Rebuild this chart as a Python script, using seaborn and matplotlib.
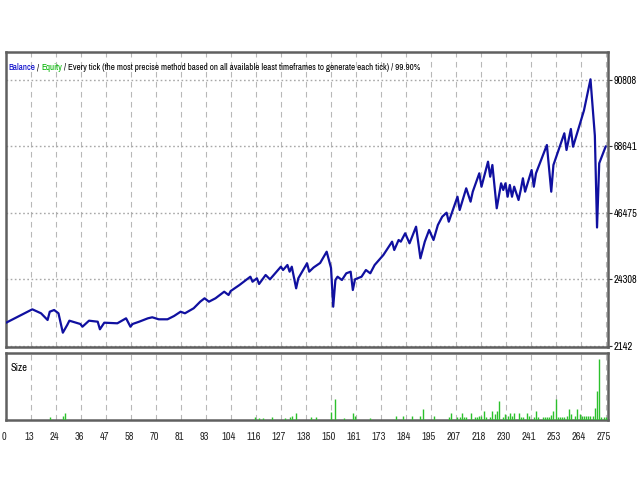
import numpy as np
import pandas as pd
import matplotlib
matplotlib.use("Agg")
import matplotlib.pyplot as plt
import matplotlib.transforms as mtransforms
from matplotlib import font_manager as fm
import seaborn as sns

# ---------------- data ----------------
trade = [0, 12, 16, 19, 20, 22, 24, 26, 28, 29, 34, 35, 38, 42, 43, 45, 51, 55, 57, 58,
         61, 65, 67, 70, 74, 77, 80, 82, 86, 89, 91, 93, 96, 98, 100, 102, 103, 107, 112, 113,
         115, 116, 119, 121, 126, 127, 129, 130, 131, 133, 134, 138, 139, 141, 144, 147, 149, 150, 151, 152,
         154, 156, 158, 159, 160, 163, 165, 167, 169, 173, 177, 178, 180, 181, 183, 185, 188, 190, 192, 194,
         196, 198, 200, 202, 203, 207, 208, 211, 213, 214, 217, 218, 221, 222, 223, 225, 227, 228, 229, 230,
         231, 232, 233, 235, 236, 237, 238, 241, 242, 243, 248, 250, 251, 256, 257, 259, 260, 265, 268, 270,
         271, 272, 275]
balance = [9810, 14270, 12940, 10710, 13470, 14040, 12940, 6480, 9040, 10480, 9380, 8480, 10480, 10140, 7610, 9810, 9610, 11270, 8480, 9380,
           10140, 11270, 11610, 10940, 10940, 12040, 13470, 12940, 14610, 16810, 17940, 16810, 17940, 19040, 20140, 19040, 20370, 22370, 25140, 23470,
           24610, 22710, 25710, 24270, 28470, 27370, 29040, 26810, 28470, 21270, 24610, 29610, 26810, 28210, 29710, 33470, 28040, 15140, 24040, 25140,
           24040, 26270, 26810, 20710, 24270, 25140, 27370, 26270, 29040, 32370, 36810, 34040, 37370, 36810, 39610, 36270, 41810, 31270, 36810, 40710,
           37370, 42370, 45140, 46470, 43470, 51800, 47370, 54600, 50140, 53470, 59600, 55140, 63470, 58470, 62370, 47940, 56270, 54040, 56270, 51800,
           55700, 51800, 55140, 50700, 54040, 57940, 53470, 60700, 55140, 59600, 69040, 53470, 62370, 72940, 67370, 74370, 68470, 80530, 90930, 72140,
           41540, 62940, 68600]

size_trade = [20, 26, 27, 114, 116, 118, 122, 128, 130, 131, 133, 140, 142, 149, 151, 155, 159, 160, 167,
              179, 182, 186, 190, 191, 196, 203, 204, 207, 208, 209, 210, 211, 213, 215, 216, 217, 218, 219, 220,
              222, 223, 224, 225, 226, 228, 229, 230, 231, 232, 233, 235, 236, 237, 239, 240, 242, 243, 244, 246,
              247, 248, 249, 250, 251, 252, 253, 254, 255, 256, 257, 258, 259, 261, 262, 263, 264, 265, 266, 267,
              268, 269, 270, 271, 272, 273, 274, 275]
size_lots = [0.10, 0.16, 0.25, 0.10, 0.08, 0.08, 0.10, 0.08, 0.10, 0.16, 0.25, 0.10, 0.10, 0.28, 0.78, 0.08, 0.25, 0.16, 0.08,
             0.16, 0.16, 0.16, 0.16, 0.41, 0.16, 0.12, 0.25, 0.10, 0.10, 0.25, 0.10, 0.12, 0.25, 0.10, 0.12, 0.15, 0.15, 0.32, 0.12,
             0.12, 0.32, 0.22, 0.34, 0.71, 0.12, 0.22, 0.15, 0.25, 0.15, 0.27, 0.27, 0.12, 0.12, 0.25, 0.15, 0.12, 0.32, 0.12, 0.12,
             0.10, 0.10, 0.10, 0.20, 0.32, 0.78, 0.12, 0.10, 0.10, 0.10, 0.15, 0.40, 0.22, 0.15, 0.40, 0.22, 0.15, 0.15, 0.15, 0.15,
             0.15, 0.15, 0.44, 1.09, 2.26, 0.10, 0.10, 0.10]

x_tick_labels = ["0", "13", "24", "36", "47", "58", "70", "81", "93", "104", "116", "127", "138",
                 "150", "161", "173", "184", "195", "207", "218", "230", "241", "253", "264", "275"]
y_tick_values = [2142, 24308, 46475, 68641, 90808]

title_parts = [("Balance", "#0000c8"), (" / ", "#000000"), ("Equity", "#00b400"),
               (" / Every tick (the most precise method based on all available least timeframes to generate each tick) / 99.90%", "#000000")]

# ---------------- style ----------------
sns.set_theme(style="white")
names = {f.name for f in fm.fontManager.ttflist}
if 'Archivo Narrow' in names:
    plt.rcParams['font.family'] = ['Archivo Narrow', 'DejaVu Sans']
elif 'Liberation Sans Narrow' in names:
    plt.rcParams['font.family'] = ['Liberation Sans Narrow', 'DejaVu Sans']
else:
    plt.rcParams['font.family'] = ['DejaVu Sans']
    plt.rcParams['font.stretch'] = 'condensed'

df = pd.DataFrame({"trade": trade, "balance": balance})
sf = pd.DataFrame({"trade": size_trade, "lots": size_lots})

W, H = 640, 480
fig = plt.figure(figsize=(6.4, 4.8), dpi=100)
fig.patch.set_facecolor("white")
renderer = fig.canvas.get_renderer()


def fit_size(text, target_px, base=8.0):
    tt = fig.text(0, 0, text, fontsize=base)
    w = tt.get_window_extent(renderer=renderer).width
    tt.remove()
    return base * target_px / w


full_title = "".join(p[0] for p in title_parts)
title_fs = fit_size(full_title, 412)
tick_fs = fit_size("90808", 24)


def rect(l, t, r, b):
    return [l / W, 1 - b / H, (r - l) / W, (b - t) / H]


ax = fig.add_axes(rect(5.5, 52, 607.5, 347))
ax2 = fig.add_axes(rect(5.5, 353, 607.5, 420))

xmin, xmax = -0.3, 275.8
tick_pos = np.linspace(0, 275, len(x_tick_labels))

sns.lineplot(data=df, x="trade", y="balance", ax=ax, color="#1010a0", linewidth=1.6, zorder=3)
ax.set_xlim(xmin, xmax)
ax.set_ylim(1709, 100030)
ax.set_xticks(tick_pos)
ax.set_xticklabels([])
ax.tick_params(axis="x", length=0)
ax.yaxis.tick_right()
ax.set_yticks(y_tick_values)
ax.set_yticklabels([str(v) for v in y_tick_values])
ax.tick_params(axis="y", length=3, width=0.8, color="#303030", labelsize=tick_fs, pad=1.5, labelcolor="#000000")
ax.xaxis.grid(True, linestyle=(0, (5, 4)), color="#b8b8b8", linewidth=0.8)
ax.yaxis.grid(True, linestyle=(0, (1.2, 1.8)), color="#a8a8a8", linewidth=1.0)
ax.set_xlabel("")
ax.set_ylabel("")

ax2.vlines(sf["trade"], 0, sf["lots"], color="#2cc02c", linewidth=1.0, zorder=3)
ax2.set_xlim(xmin, xmax)
ax2.set_ylim(0, 2.48)
ax2.set_yticks([])
ax2.set_xticks(tick_pos)
ax2.set_xticklabels(x_tick_labels)
ax2.tick_params(axis="x", length=0, labelsize=tick_fs, pad=8.5)
ax2.xaxis.grid(True, linestyle=(0, (5, 4)), color="#b8b8b8", linewidth=0.8)
offset = mtransforms.ScaledTranslation(-2 / 100, 0, fig.dpi_scale_trans)
for lab in ax2.get_xticklabels():
    lab.set_transform(lab.get_transform() + offset)

for a in (ax, ax2):
    a.set_facecolor("white")
    for s in a.spines.values():
        s.set_color("#606060")
        s.set_linewidth(1.8)
        s.set_visible(True)

ax2.text(0.008, 0.78, "Size", transform=ax2.transAxes, fontsize=tick_fs, color="#000000", va="center")

# coloured title
t = fig.text(8 / W, 1 - 68 / H, title_parts[0][0], fontsize=title_fs, color=title_parts[0][1], va="center")
prev = t
for s, c in title_parts[1:]:
    prev = ax.annotate(s, xy=(1, 0), xycoords=prev, xytext=(0, 0), textcoords="offset points",
                       fontsize=title_fs, color=c, va="bottom", ha="left")

fig.savefig("out.png", dpi=100, facecolor="white")
